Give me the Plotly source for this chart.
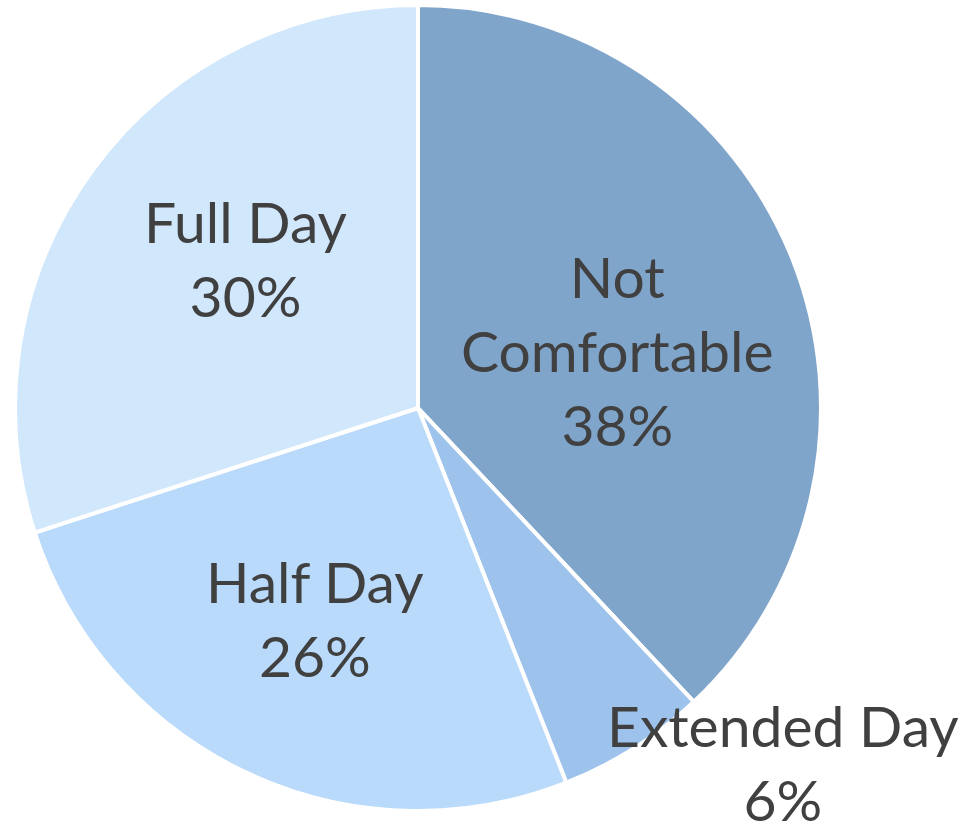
import plotly.graph_objects as go

labels = ["Not Comfortable", "Extended Day", "Half Day", "Full Day"]
values = [38, 6, 26, 30]
display_labels = ["Not<br>Comfortable", "Extended Day", "Half Day", "Full Day"]
colors = ["#80A5CB", "#9DC3EC", "#B9DAFB", "#D1E7FC"]
# label anchor positions (paper coords)
label_pos = [(0.643, 0.581), (0.815, 0.087), (0.328, 0.260), (0.255, 0.691)]

W, H = 961, 835
cx, cy, R = 418, 408, 403

fig = go.Figure(go.Pie(
    labels=labels,
    values=values,
    sort=False,
    direction="clockwise",
    rotation=0,
    marker=dict(colors=colors, line=dict(color="white", width=4)),
    textinfo="none",
    hoverinfo="label+percent",
    showlegend=False,
    domain=dict(x=[(cx - R) / W, (cx + R) / W], y=[(H - cy - R) / H, (H - cy + R) / H]),
))

total = sum(values)
for lab, v, (x, y) in zip(display_labels, values, label_pos):
    fig.add_annotation(
        x=x, y=y, xref="paper", yref="paper",
        text=f"{lab}<br>{round(100 * v / total)}%",
        showarrow=False,
        font=dict(family="Lato", size=57, color="#404040"),
        align="center", xanchor="center", yanchor="middle",
    )

fig.update_layout(
    width=W, height=H,
    margin=dict(l=0, r=0, t=0, b=0),
    paper_bgcolor="white",
    plot_bgcolor="white",
)

fig.write_html(
    "out.html",
    config={"displayModeBar": False},
    post_script="document.body.style.margin='0';document.body.style.overflow='hidden';",
)
